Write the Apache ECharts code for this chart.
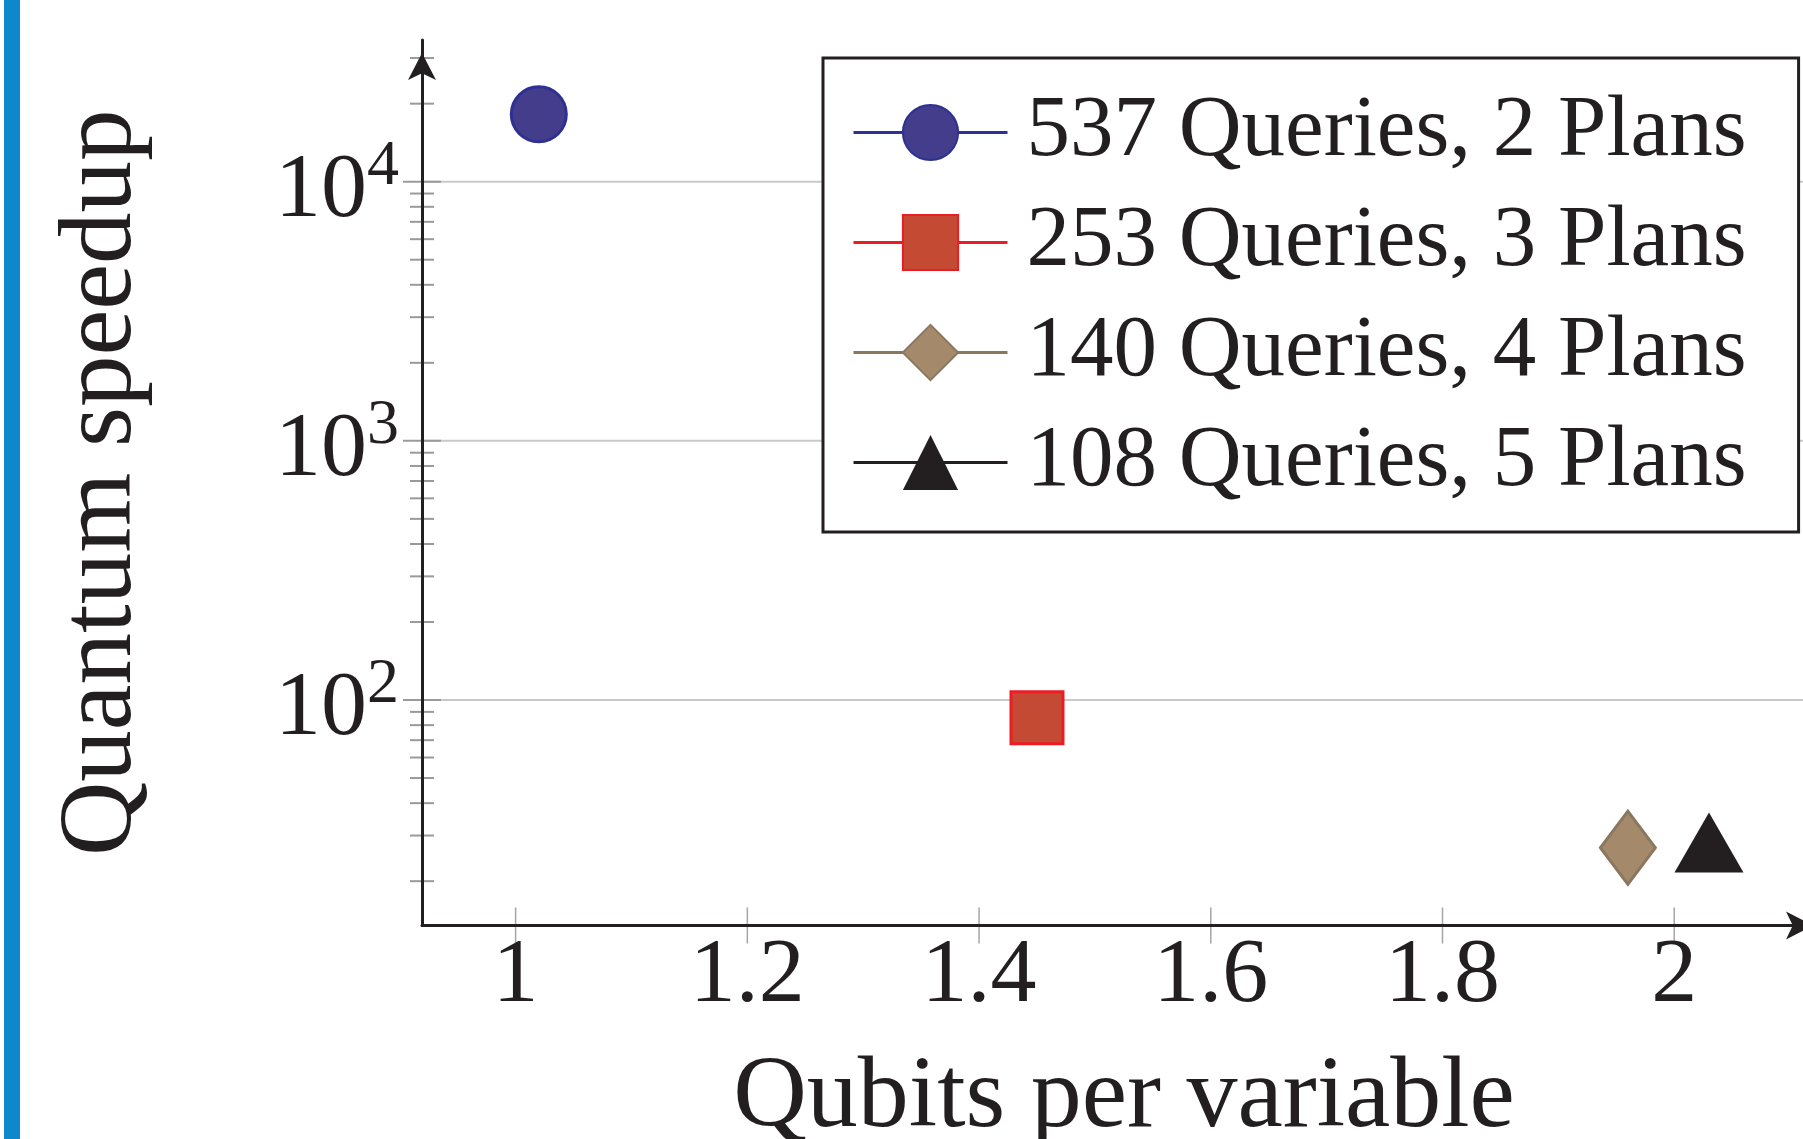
<!DOCTYPE html>
<html>
<head>
<meta charset="utf-8">
<script src="https://cdn.jsdelivr.net/npm/echarts@6/dist/echarts.min.js"></script>
<style>
html, body { margin: 0; padding: 0; background: #ffffff; }
#chart { width: 1803px; height: 1139px; }
</style>
</head>
<body>
<div id="chart"></div>
<script>
// ---- data ----
const seriesNames = ['537 Queries, 2 Plans', '253 Queries, 3 Plans', '140 Queries, 4 Plans', '108 Queries, 5 Plans'];
const qubitsPerVariable = [1.02, 1.45, 1.96, 2.03];
const quantumSpeedup = [18200, 85.5, 26.9, 28.2];
const xTickValues = [1, 1.2, 1.4, 1.6, 1.8, 2];
const yMajorTickValues = [100, 1000, 10000];
const yMinorTickValues = [20, 30, 40, 50, 60, 70, 80, 90,
  200, 300, 400, 500, 600, 700, 800, 900,
  2000, 3000, 4000, 5000, 6000, 7000, 8000, 9000,
  20000, 30000];
const xRange = [0.9192, 2.131];
const yRange = [13.49, 35210];

// ---- styles ----
const FONT = '"Liberation Serif", "DejaVu Serif", serif';
const INK = '#231f20';
const markerStyles = [
  { symbol: 'circle',   size: 55,       fill: '#433d8b', stroke: '#2e3192', bw: 3, line: '#2e3192' },
  { symbol: 'rect',     size: 52,       fill: '#c44a34', stroke: '#ed1c24', bw: 3, line: '#ed1c24' },
  { symbol: 'diamond',  size: [55, 73], fill: '#a48a6b', stroke: '#8b7760', bw: 3, line: '#8b7760' },
  { symbol: 'triangle', size: [69, 60], fill: INK,       stroke: INK,       bw: 0, line: INK }
];

const chart = echarts.init(document.getElementById('chart'), null, { renderer: 'canvas' });

function isPow10(v) {
  const e = Math.log10(v);
  return Math.abs(e - Math.round(e)) < 1e-6;
}

const dataSeries = seriesNames.map((name, i) => ({
  type: 'line',
  name: name,
  data: [[qubitsPerVariable[i], quantumSpeedup[i]]],
  symbol: markerStyles[i].symbol,
  symbolSize: markerStyles[i].size,
  showSymbol: true,
  itemStyle: { color: markerStyles[i].fill, borderColor: markerStyles[i].stroke, borderWidth: markerStyles[i].bw },
  lineStyle: { color: markerStyles[i].line, width: 3 },
  z: 3,
  silent: true
}));

const yTickSeries = {
  type: 'custom',
  name: 'yTicks',
  coordinateSystem: 'cartesian2d',
  silent: true,
  clip: false,
  z: -1,
  encode: { x: 0, y: 1 },
  data: yMajorTickValues.map(v => [xRange[0], v, 1]).concat(yMinorTickValues.map(v => [xRange[0], v, 0])),
  renderItem: function (params, api) {
    const v = api.value(1);
    const major = api.value(2) === 1;
    const p = api.coord([xRange[0], v]);
    const children = [];
    if (major) {
      children.push({ type: 'line', shape: { x1: p[0], y1: p[1], x2: api.getWidth(), y2: p[1] },
        style: { stroke: '#c9c9c9', lineWidth: 2 } });
    }
    const half = major ? 19 : 12;
    children.push({ type: 'line', shape: { x1: p[0] - half, y1: p[1], x2: p[0] + half, y2: p[1] },
      style: { stroke: '#9a9a9a', lineWidth: 2 } });
    return { type: 'group', children: children };
  }
};

const xTickSeries = {
  type: 'custom',
  name: 'xTicks',
  coordinateSystem: 'cartesian2d',
  silent: true,
  clip: false,
  z: -1,
  encode: { x: 0, y: 1 },
  data: xTickValues.map(v => [v, yRange[0]]),
  renderItem: function (params, api) {
    const p = api.coord([api.value(0), yRange[0]]);
    return { type: 'line', shape: { x1: p[0], y1: p[1] - 18, x2: p[0], y2: p[1] + 18 },
      style: { stroke: '#a6a6a6', lineWidth: 1.5 } };
  }
};

const option = {
  animation: false,
  backgroundColor: '#ffffff',
  tooltip: { show: false },
  graphic: [
    { type: 'rect', left: 4, top: 0, shape: { width: 16, height: 1139 }, style: { fill: '#0d88cc' }, silent: true }
  ],
  grid: { left: 422, top: 40, width: 1404, bottom: 213.5, containLabel: false, outerBoundsMode: 'none' },
  xAxis: {
    type: 'value',
    min: xRange[0],
    max: xRange[1],
    splitNumber: 5,
    axisLine: { show: true, onZero: false, lineStyle: { color: INK, width: 3 },
      symbol: ['none', 'arrow'], symbolSize: [21, 27], symbolOffset: [0, -13] },
    axisTick: { show: false },
    splitLine: { show: false },
    axisLabel: {
      margin: 5,
      fontFamily: FONT, fontSize: 92, lineHeight: 92, color: INK,
      formatter: function (v) {
        for (const t of xTickValues) { if (Math.abs(v - t) < 1e-6) return String(t); }
        return '';
      }
    },
    name: 'Qubits per variable',
    nameLocation: 'middle',
    nameGap: 123,
    nameTextStyle: { fontFamily: FONT, fontSize: 102, lineHeight: 102, color: INK }
  },
  yAxis: {
    type: 'log',
    logBase: 10,
    min: yRange[0],
    max: yRange[1],
    axisLine: { show: true, lineStyle: { color: INK, width: 3 },
      symbol: ['none', 'arrow'], symbolSize: [21, 27], symbolOffset: [0, -13] },
    axisTick: { show: false },
    minorTick: { show: false },
    splitLine: { show: false },
    axisLabel: {
      margin: 23,
      padding: [20, 0, 0, 0],
      formatter: function (v) {
        if (!isPow10(v)) return '';
        return '{b|10}{s|' + Math.round(Math.log10(v)) + '}';
      },
      rich: {
        b: { fontFamily: FONT, fontSize: 92, lineHeight: 92, color: INK },
        s: { fontFamily: FONT, fontSize: 64, lineHeight: 64, color: INK, padding: [0, 0, 49, 0] }
      }
    },
    name: 'Quantum speedup',
    nameLocation: 'middle',
    nameGap: 268,
    nameRotate: 90,
    nameTextStyle: { fontFamily: FONT, fontSize: 103, lineHeight: 103, color: INK }
  },
  legend: {
    orient: 'vertical',
    left: 823,
    top: 58,
    data: seriesNames,
    itemWidth: 154,
    itemHeight: 69,
    itemGap: 23,
    padding: [31, 52, 26, 29],
    backgroundColor: '#ffffff',
    borderColor: INK,
    borderWidth: 3,
    borderRadius: 0,
    selectedMode: false,
    lineStyle: { width: 3 },
    textStyle: { fontFamily: FONT, fontSize: 87, lineHeight: 69, color: INK, padding: [0, 0, 0, 14] },
    z: 10
  },
  series: [yTickSeries, xTickSeries].concat(dataSeries)
};

chart.setOption(option);
</script>
</body>
</html>
